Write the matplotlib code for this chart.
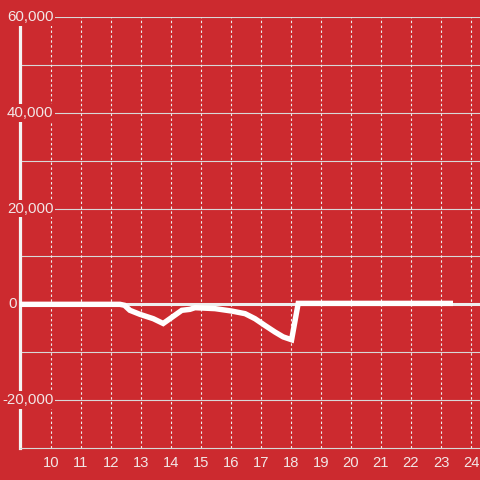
import matplotlib.pyplot as plt
from matplotlib import transforms

# hourly values
hours = [8.97, 12.3, 12.45, 12.63, 12.97, 13.41, 13.74, 14.36, 14.63, 14.8, 15.47,
         16.02, 16.47, 16.8, 17.13, 17.47, 17.74, 18.02, 18.24, 23.4]
values = [0, 0, -200, -1250, -2100, -3000, -4000, -1250, -1050, -700, -900,
          -1400, -1950, -3000, -4400, -5800, -6800, -7400, 200, 200]

x_ticks = list(range(10, 25))
y_labels = [60000, 40000, 20000, 0, -20000]

bg = '#cc2a2f'
txt = '#f2e6e6'

plt.rcParams['font.family'] = ['Liberation Sans', 'DejaVu Sans']

fig = plt.figure(figsize=(4.8, 4.8), dpi=100, facecolor=bg)
ax = fig.add_axes([20/480, 32/480, 460/480, 431/480])
ax.set_facecolor(bg)

ax.set_xlim(8.967, 24.3)
ax.set_ylim(-30000, 60000)

# grid
for v in range(-20000, 60001, 10000):
    if v == 0:
        ax.axhline(v, color='#eeeeee', lw=2.2, zorder=1)
    else:
        ax.axhline(v, color='#d8d8d8', lw=0.8, zorder=1)
for h in x_ticks:
    ax.axvline(h, color='#eeeeee', lw=0.8, ls=(0, (2.2, 2.2)), zorder=1)

ax.plot(hours, values, color='white', lw=3.9, zorder=4,
        solid_joinstyle='miter', solid_capstyle='butt')

for s in ['top', 'right']:
    ax.spines[s].set_visible(False)
ax.spines['left'].set_color('#f4f4f4')
ax.spines['left'].set_linewidth(2.3)
ax.spines['bottom'].set_color('#d8d8d8')
ax.spines['bottom'].set_linewidth(0.8)

ax.set_yticks([])
ax.set_xticks(x_ticks)
ax.set_xticklabels([str(h) for h in x_ticks], color=txt, fontsize=10.6)
ax.tick_params(axis='x', length=0, pad=6)

tr = transforms.blended_transform_factory(ax.transAxes, ax.transData)
for v in y_labels:
    lab = f'{v:,}'
    xpos = -13/460 if v >= 0 else -18/460
    if v == 0:
        xpos = -12/460
    ax.text(xpos, v, lab, transform=tr, ha='left', va='center', color=txt,
            fontsize=10.8, zorder=10, clip_on=False,
            bbox=dict(boxstyle='square,pad=0.12', fc=bg, ec='none'))

fig.savefig('out.png', dpi=100, facecolor=bg)
